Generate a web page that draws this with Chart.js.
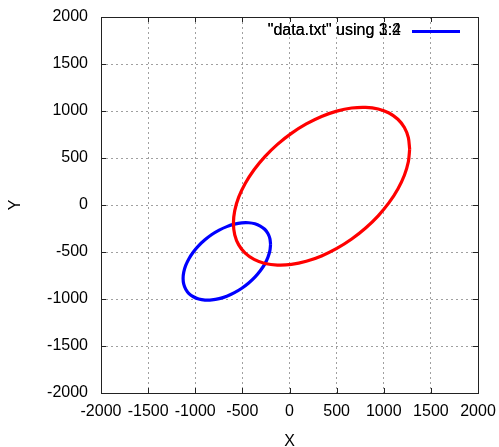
<!DOCTYPE html>
<html lang="en">

<head>
    <meta charset="UTF-8">
    <title>data.txt ellipses</title>
    <style>
        * {
            margin: 0;
            padding: 0;
            box-sizing: border-box;
        }

        html,
        body {
            width: 499px;
            height: 447px;
            background: #fff;
            font-family: "Liberation Sans", Arial, sans-serif;
        }

        .container {
            width: 499px;
            height: 447px;
        }
    </style>
    <script src="https://cdn.jsdelivr.net/npm/chart.js"></script>
</head>

<body>
    <div class="container">
        <canvas id="plot" width="499" height="447"></canvas>
    </div>

    <script>
        // columns 1:2 of data.txt (red)
        const redX = [1275, 1261, 1219, 1150, 1056, 941, 808, 660, 502, 340, 178, 20, -128, -261, -376, -470, -539, -581,
            -595, -581, -539, -470, -376, -261, -128, 20, 178, 340, 502, 660, 808, 941, 1056, 1150, 1219, 1261, 1275];
        const redY = [594, 717, 824, 912, 979, 1022, 1039, 1032, 999, 942, 862, 762, 645, 515, 375, 229, 83, -60,
            -194, -317, -424, -512, -579, -622, -639, -632, -599, -542, -462, -362, -245, -115, 25, 171, 317, 460, 594];

        // columns 3:4 of data.txt (blue)
        const blueX = [-201, -208, -229, -263, -310, -367, -433, -506, -584, -665, -746, -824, -897, -963, -1020, -1067, -1101, -1122,
            -1129, -1122, -1101, -1067, -1020, -963, -897, -824, -746, -665, -584, -506, -433, -367, -310, -263, -229, -208, -201];
        const blueY = [-419, -358, -304, -258, -224, -200, -189, -190, -204, -230, -267, -314, -370, -432, -500, -571, -643, -714,
            -781, -842, -896, -942, -976, -1000, -1011, -1010, -996, -970, -933, -886, -830, -768, -700, -629, -557, -486, -419];

        const seriesLabels = ['"data.txt" using 1:2', '"data.txt" using 3:4'];
        const axisMin = -2000;
        const axisMax = 2000;
        const axisStep = 500;

        const FONT = '"Liberation Sans", Arial, sans-serif';

        function pairs(xs, ys) {
            return xs.map((x, i) => ({ x: x, y: ys[i] }));
        }

        // gnuplot style frame, inward ticks and overlapping key
        const gnuplotFrame = {
            id: 'gnuplotFrame',
            afterDraw(chart) {
                const ctx = chart.ctx;
                const a = chart.chartArea;
                const xs = chart.scales.x;
                const ys = chart.scales.y;
                const len = 5;
                ctx.save();
                ctx.strokeStyle = '#222';
                ctx.lineWidth = 1;
                ctx.beginPath();
                xs.ticks.forEach(t => {
                    const px = Math.round(xs.getPixelForValue(t.value)) + 0.5;
                    ctx.moveTo(px, a.bottom); ctx.lineTo(px, a.bottom - len);
                    ctx.moveTo(px, a.top); ctx.lineTo(px, a.top + len);
                });
                ys.ticks.forEach(t => {
                    const py = Math.round(ys.getPixelForValue(t.value)) + 0.5;
                    ctx.moveTo(a.left, py); ctx.lineTo(a.left + len, py);
                    ctx.moveTo(a.right, py); ctx.lineTo(a.right - len, py);
                });
                ctx.stroke();
                ctx.strokeRect(Math.round(a.left) + 0.5, Math.round(a.top) + 0.5,
                    Math.round(a.right - a.left), Math.round(a.bottom - a.top));

                // key: both entries share one spot, like the original
                ctx.font = '16px ' + FONT;
                ctx.textAlign = 'right';
                ctx.textBaseline = 'middle';
                chart.data.datasets.forEach(ds => {
                    ctx.fillStyle = '#000';
                    ctx.fillText(ds.label, 401, 31);
                    ctx.strokeStyle = ds.borderColor;
                    ctx.lineWidth = 3;
                    ctx.beginPath();
                    ctx.moveTo(412, 31.5);
                    ctx.lineTo(460, 31.5);
                    ctx.stroke();
                });
                ctx.restore();
            }
        };

        const plain = v => String(v);

        const ctx = document.getElementById('plot').getContext('2d');
        new Chart(ctx, {
            type: 'scatter',
            data: {
                datasets: [
                    {
                        label: seriesLabels[0],
                        data: pairs(redX, redY),
                        borderColor: '#ff0000',
                        backgroundColor: '#ff0000',
                        borderWidth: 3.2,
                        showLine: true,
                        tension: 0.3,
                        pointRadius: 0,
                        fill: false
                    },
                    {
                        label: seriesLabels[1],
                        data: pairs(blueX, blueY),
                        borderColor: '#0000ff',
                        backgroundColor: '#0000ff',
                        borderWidth: 3.2,
                        showLine: true,
                        tension: 0.3,
                        pointRadius: 0,
                        fill: false
                    }
                ]
            },
            options: {
                responsive: false,
                animation: false,
                layout: { padding: { left: 0, top: 17, right: 21, bottom: 0 } },
                plugins: {
                    legend: { display: false },
                    tooltip: { enabled: false }
                },
                scales: {
                    x: {
                        type: 'linear',
                        min: axisMin,
                        max: axisMax,
                        afterFit: s => {
                            s.height = 54;
                            s.paddingLeft = 0;
                            s.paddingRight = 0;
                        },
                        ticks: {
                            stepSize: axisStep,
                            padding: 9,
                            color: '#000',
                            font: { family: FONT, size: 16 },
                            maxRotation: 0,
                            autoSkip: false,
                            callback: plain
                        },
                        grid: { color: '#a0a0a0', drawTicks: false, lineWidth: 1 },
                        border: { display: false, dash: [2, 3] },
                        title: {
                            display: true,
                            text: 'X',
                            color: '#000',
                            font: { family: FONT, size: 16 },
                            padding: { top: 0, bottom: -4 }
                        }
                    },
                    y: {
                        type: 'linear',
                        min: axisMin,
                        max: axisMax,
                        afterFit: s => {
                            s.width = 101;
                            s.paddingTop = 0;
                            s.paddingBottom = 0;
                        },
                        ticks: {
                            stepSize: axisStep,
                            padding: 13,
                            color: '#000',
                            font: { family: FONT, size: 16 },
                            autoSkip: false,
                            callback: plain
                        },
                        grid: { color: '#a0a0a0', drawTicks: false, lineWidth: 1 },
                        border: { display: false, dash: [2, 3] },
                        title: {
                            display: true,
                            text: 'Y',
                            color: '#000',
                            font: { family: FONT, size: 16 },
                            padding: { top: 6, bottom: 0 }
                        }
                    }
                }
            },
            plugins: [gnuplotFrame]
        });
    </script>
</body>

</html>
